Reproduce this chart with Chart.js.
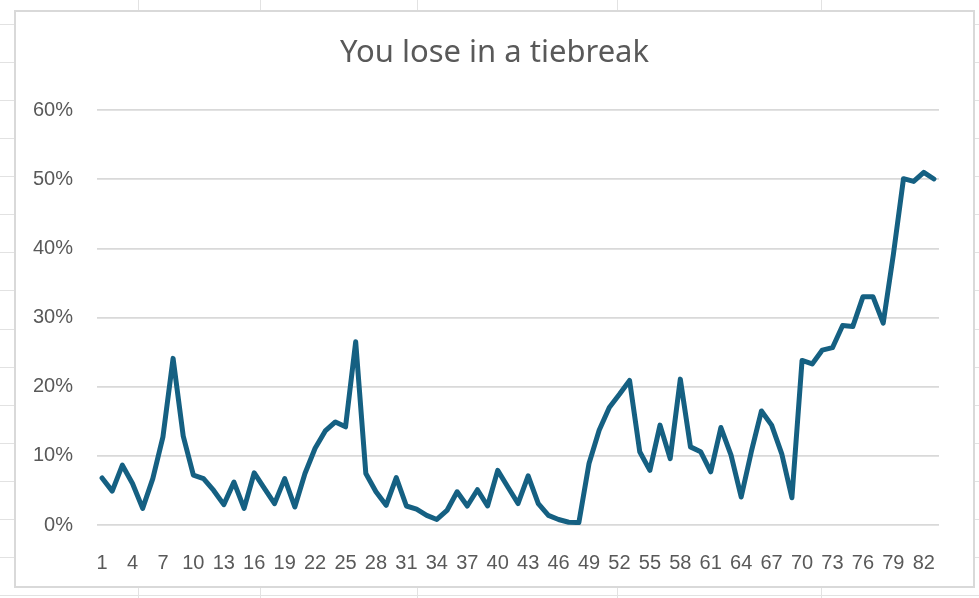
<!DOCTYPE html>
<html>
<head>
<meta charset="utf-8">
<title>You lose in a tiebreak</title>
<script src="https://cdn.jsdelivr.net/npm/chart.js@4.4.1/dist/chart.umd.min.js"></script>
<style>
  html, body { margin: 0; padding: 0; background: #fff; }
  body { width: 979px; height: 598px; position: relative; overflow: hidden; }
  .cell-h { position: absolute; left: 0; width: 979px; height: 1px; background: #e2e2e2; }
  .cell-v { position: absolute; top: 0; height: 598px; width: 1px; background: #e2e2e2; }
  #frame {
    position: absolute; left: 14px; top: 10px; width: 961px; height: 578px;
    box-sizing: border-box; border: 2px solid #d9d9d9; background: #fff;
  }
  #wrap { position: absolute; left: 0; top: 0; width: 979px; height: 598px; }
</style>
</head>
<body>
<div id="sheet"></div>
<div id="frame"></div>
<div id="wrap"><canvas id="lineChart"></canvas></div>

<script>
// x categories (round number)
const rounds = [
  1, 2, 3, 4, 5, 6, 7, 8, 9, 10, 11, 12, 13, 14, 15, 16, 17, 18, 19, 20,
  21, 22, 23, 24, 25, 26, 27, 28, 29, 30, 31, 32, 33, 34, 35, 36, 37, 38, 39, 40,
  41, 42, 43, 44, 45, 46, 47, 48, 49, 50, 51, 52, 53, 54, 55, 56, 57, 58, 59, 60,
  61, 62, 63, 64, 65, 66, 67, 68, 69, 70, 71, 72, 73, 74, 75, 76, 77, 78, 79, 80,
  81, 82, 83
];

// share of tiebreaks lost, in percent
const loseShare = [
  6.8, 4.9, 8.65, 6.0, 2.4, 6.7, 12.75, 24.1, 12.85, 7.2,
  6.7, 5.0, 2.95, 6.2, 2.4, 7.55, 5.3, 3.1, 6.7, 2.6,
  7.45, 11.1, 13.6, 14.9, 14.2, 26.5, 7.45, 4.8, 2.85, 6.85,
  2.75, 2.3, 1.4, 0.8, 2.1, 4.8, 2.75, 5.1, 2.75, 7.9,
  5.5, 3.1, 7.1, 3.1, 1.4, 0.8, 0.4, 0.35, 8.9, 13.7,
  17.0, 18.9, 20.9, 10.6, 7.9, 14.45, 9.6, 21.1, 11.3, 10.6,
  7.7, 14.1, 10.1, 4.05, 10.6, 16.5, 14.45, 10.3, 3.95, 23.8,
  23.3, 25.3, 25.65, 28.85, 28.7, 33.0, 33.0, 29.2, 39.1, 50.1,
  49.7, 51.0, 50.05
];

// labels shown on the x axis
const xTickLabels = [1, 4, 7, 10, 13, 16, 19, 22, 25, 28, 31, 34, 37, 40, 43, 46, 49, 52, 55, 58, 61, 64, 67, 70, 73, 76, 79, 82];

// y axis ticks, percent
const yTicks = [0, 10, 20, 30, 40, 50, 60];

const chartTitle = 'You lose in a tiebreak';

// faint spreadsheet cells behind the chart
function drawSheet() {
  const sheet = document.getElementById('sheet');
  const cols = [138, 260, 417, 617, 821];
  cols.forEach(x => {
    const d = document.createElement('div');
    d.className = 'cell-v';
    d.style.left = x + 'px';
    sheet.appendChild(d);
  });
  for (let y = 24; y < 598; y += 38.07) {
    const d = document.createElement('div');
    d.className = 'cell-h';
    d.style.top = Math.round(y) + 'px';
    sheet.appendChild(d);
  }
}

document.addEventListener('DOMContentLoaded', function () {
  drawSheet();

  const ctx = document.getElementById('lineChart').getContext('2d');
  const textColor = '#595959';
  const gridColor = '#d9d9d9';

  new Chart(ctx, {
    type: 'line',
    data: {
      labels: rounds,
      datasets: [{
        label: 'You lose',
        data: loseShare,
        borderColor: '#156082',
        borderWidth: 5,
        borderJoinStyle: 'round',
        borderCapStyle: 'round',
        pointRadius: 0,
        tension: 0,
        fill: false
      }]
    },
    options: {
      responsive: true,
      maintainAspectRatio: false,
      animation: false,
      layout: {
        // left padding keeps the title centred on the chart frame
        padding: { left: 10, right: 0, top: 0, bottom: 0 }
      },
      plugins: {
        legend: { display: false },
        tooltip: { enabled: false },
        title: {
          display: true,
          text: chartTitle,
          color: textColor,
          font: { family: '"Noto Sans", "Open Sans", sans-serif', size: 31, weight: 'normal' },
          padding: { top: 35, bottom: 38 }
        }
      },
      scales: {
        x: {
          offset: true,
          grid: { display: false },
          border: { display: false },
          ticks: {
            autoSkip: false,
            maxRotation: 0,
            padding: 18,
            color: textColor,
            font: { family: '"Liberation Sans", Arial, sans-serif', size: 20 },
            callback: function (value, index) {
              const lbl = rounds[index];
              return xTickLabels.includes(lbl) ? String(lbl) : '';
            }
          },
          afterFit: function (scale) { scale.height = 73; }
        },
        y: {
          min: yTicks[0],
          max: yTicks[yTicks.length - 1],
          grid: { color: gridColor, lineWidth: 1.7, drawTicks: false },
          border: { display: false },
          afterBuildTicks: function (scale) {
            scale.ticks = yTicks.map(v => ({ value: v }));
          },
          ticks: {
            padding: 24,
            color: textColor,
            font: { family: '"Liberation Sans", Arial, sans-serif', size: 20 },
            callback: function (value) { return value + '%'; }
          },
          afterFit: function (scale) { scale.width = 87; }
        },
        // empty right-hand spacer so the plot stops short of the frame
        spacer: {
          type: 'linear',
          position: 'right',
          grid: { display: false },
          border: { display: false },
          ticks: { display: false },
          afterFit: function (scale) { scale.width = 40; }
        }
      }
    }
  });
});
</script>
</body>
</html>
